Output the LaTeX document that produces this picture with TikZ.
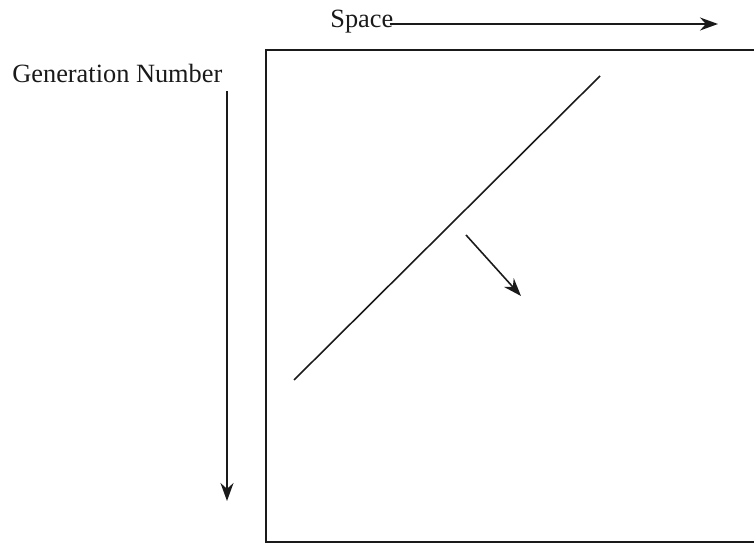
\documentclass[tikz,border=0pt]{standalone}
\usepackage{fontspec}
\setmainfont{Liberation Serif}
\usepackage{tikz}
\usetikzlibrary{calc,arrows.meta,positioning}
\definecolor{inkc}{HTML}{1A1A1A}
\tikzset{
  ar/.style={-{Stealth[length=3.6mm,width=2.6mm]},line width=0.9pt,inkc},
  ln/.style={line width=0.9pt,inkc},
  lbl/.style={font=\fontsize{15}{17}\selectfont,inner sep=0pt,text=inkc}
}
\begin{document}
\begin{tikzpicture}[x=0.02cm,y=-0.02cm]
\useasboundingbox (0,0) rectangle (754,546);
\draw[ln] (266,50) rectangle (790,542);
\node[lbl,anchor=west] (space) at (330,22) {Space};
\coordinate (sp) at (718,24);
\draw[ar] ($(space.east)+(-4,2)$) -- (sp);
\node[lbl,anchor=west] (gen) at (12,73) {Generation Number};
\coordinate (g0) at (227,91); \coordinate (g1) at (227,501);
\draw[ar] (g0) -- (g1);
\coordinate (d0) at (294,380); \coordinate (d1) at (600,76);
\draw[ln] (d0) -- (d1);
\coordinate (m0) at (466,235); \coordinate (m1) at (521,296);
\draw[ar] (m0) -- (m1);
\end{tikzpicture}
\end{document}
